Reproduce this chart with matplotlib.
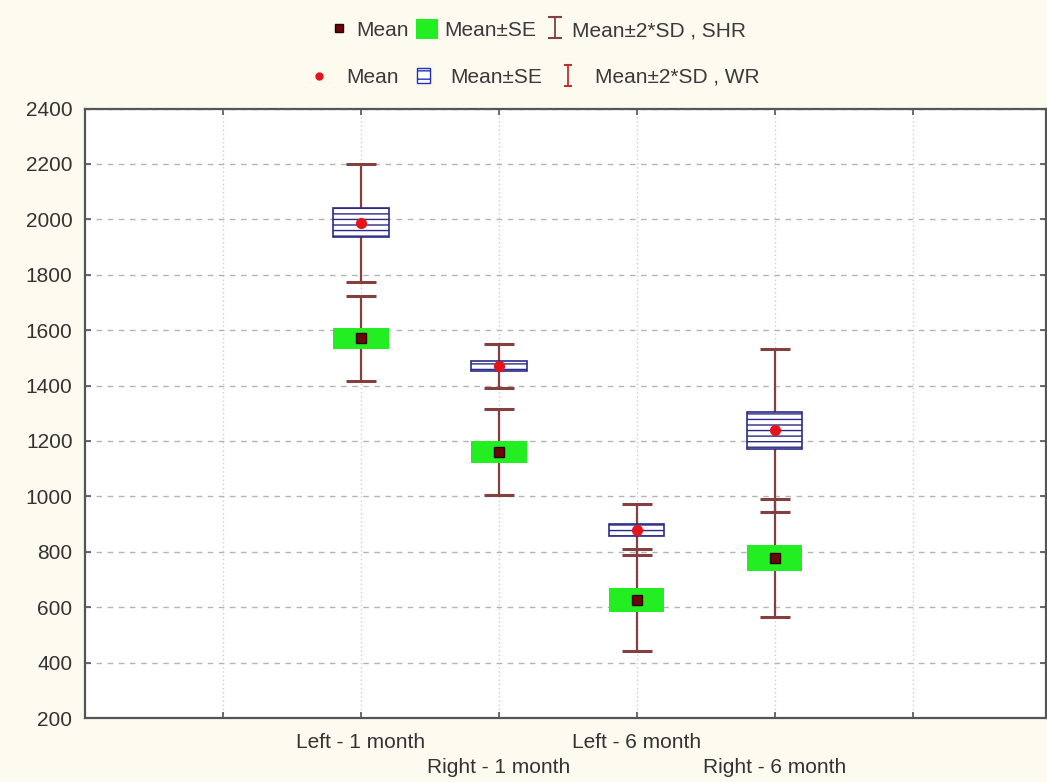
import matplotlib
matplotlib.use("Agg")
import matplotlib.pyplot as plt
import numpy as np
from matplotlib.patches import Patch
from matplotlib.lines import Line2D

categories = ["Left - 1 month", "Right - 1 month", "Left - 6 month", "Right - 6 month"]
positions = [1, 2, 3, 4]

shr_mean = [1570, 1160, 626, 776]
shr_se = [38, 39, 44, 47]
shr_2sd = [152, 155, 183, 213]

wr_mean = [1988, 1470, 880, 1238]
wr_se = [52, 18, 22, 66]
wr_2sd = [213, 79, 92, 293]

yticks = list(range(200, 2401, 200))

plt.rcParams['font.family'] = ['Liberation Sans', 'DejaVu Sans']
plt.rcParams['hatch.linewidth'] = 1.0

fig = plt.figure(figsize=(10.47, 7.82), dpi=100, facecolor='#fdfaf0')
ax = fig.add_axes([85 / 1047, 64 / 782, 961 / 1047, 609.5 / 782])
ax.set_facecolor('white')

whisker_col = '#83403f'
green = '#22ee22'
navy = '#2b2b85'
fs = 15

ax.errorbar(positions, shr_mean, yerr=shr_2sd, fmt='none', ecolor=whisker_col,
            elinewidth=1.6, capsize=10.5, capthick=2.2, zorder=2)
ax.errorbar(positions, wr_mean, yerr=wr_2sd, fmt='none', ecolor=whisker_col,
            elinewidth=1.6, capsize=10.5, capthick=2.2, zorder=2)

shr_bottom = [m - s for m, s in zip(shr_mean, shr_se)]
shr_h = [2 * s for s in shr_se]
wr_bottom = [m - s for m, s in zip(wr_mean, wr_se)]
wr_h = [2 * s for s in wr_se]

ax.bar(positions, shr_h, bottom=shr_bottom, width=0.4, color=green, edgecolor='none', zorder=3)
ax.bar(positions, wr_h, bottom=wr_bottom, width=0.4, facecolor='white', edgecolor=navy,
       hatch='---', linewidth=1.2, zorder=3)

ax.plot(positions, shr_mean, linestyle='none', marker='s', markersize=7,
        markerfacecolor='#6a0808', markeredgecolor='#2a0000', zorder=4)
ax.plot(positions, wr_mean, linestyle='none', marker='o', markersize=7,
        markerfacecolor='#e4141c', markeredgecolor='#e4141c', zorder=4)

# legend-only error bar handles (no visible data)
leg_eb1 = ax.errorbar([np.nan], [np.nan], yerr=[1], fmt='none', ecolor=whisker_col,
                      elinewidth=1.3, capsize=5, capthick=1.5)
leg_eb2 = ax.errorbar([np.nan], [np.nan], yerr=[1], fmt='none', ecolor='#c03030',
                      elinewidth=1.3, capsize=3, capthick=1.5)

ax.set_xlim(-1, 5.965)
ax.set_ylim(200, 2400)
ax.set_yticks(yticks)
ax.set_yticklabels([str(v) for v in yticks])

xt_labels = ['']
for i, c in enumerate(categories):
    xt_labels.append(c if i % 2 == 0 else '\n' + c)
xt_labels.append('')
ax.set_xticks(range(0, 6))
ax.set_xticklabels(xt_labels, linespacing=1.4)

ax.tick_params(axis='both', direction='in', length=4, width=1.2, colors='#555555',
               labelcolor='#333333', labelsize=fs, top=True, right=True)
ax.tick_params(axis='x', pad=11)
ax.tick_params(axis='y', pad=9)

ax.yaxis.grid(True, linestyle=(0, (4, 4)), color='#b4b4b4', linewidth=1.0)
ax.xaxis.grid(True, linestyle=(0, (1, 2)), color='#cfcfcf', linewidth=1.0)
ax.set_axisbelow(True)

for sp in ax.spines.values():
    sp.set_color('#555555')
    sp.set_linewidth(1.6)

h1 = [Line2D([], [], linestyle='none', marker='s', markersize=6,
             markerfacecolor='#6a0808', markeredgecolor='#2a0000'),
      Patch(facecolor=green, edgecolor='none'),
      leg_eb1]
l1 = ['Mean', 'Mean±SE', 'Mean±2*SD , SHR']
h2 = [Line2D([], [], linestyle='none', marker='o', markersize=5,
             markerfacecolor='#e4141c', markeredgecolor='#e4141c'),
      Patch(facecolor='white', edgecolor='#2030c0', hatch='--'),
      leg_eb2]
l2 = ['Mean', 'Mean±SE', 'Mean±2*SD , WR']

fig.legend(h1, l1, loc='center', bbox_to_anchor=(0.513, 0.962), ncol=3, frameon=False,
           fontsize=fs, handlelength=1.05, handleheight=1.1, handletextpad=0.3,
           columnspacing=0.35, labelcolor='#3a3a3a', borderpad=0)
fig.legend(h2, l2, loc='center', bbox_to_anchor=(0.512, 0.901), ncol=3, frameon=False,
           fontsize=fs, handlelength=0.6, handleheight=0.7, handletextpad=1.0,
           columnspacing=0.9, labelcolor='#3a3a3a', borderpad=0)

fig.savefig('out.png', dpi=100, facecolor=fig.get_facecolor())
